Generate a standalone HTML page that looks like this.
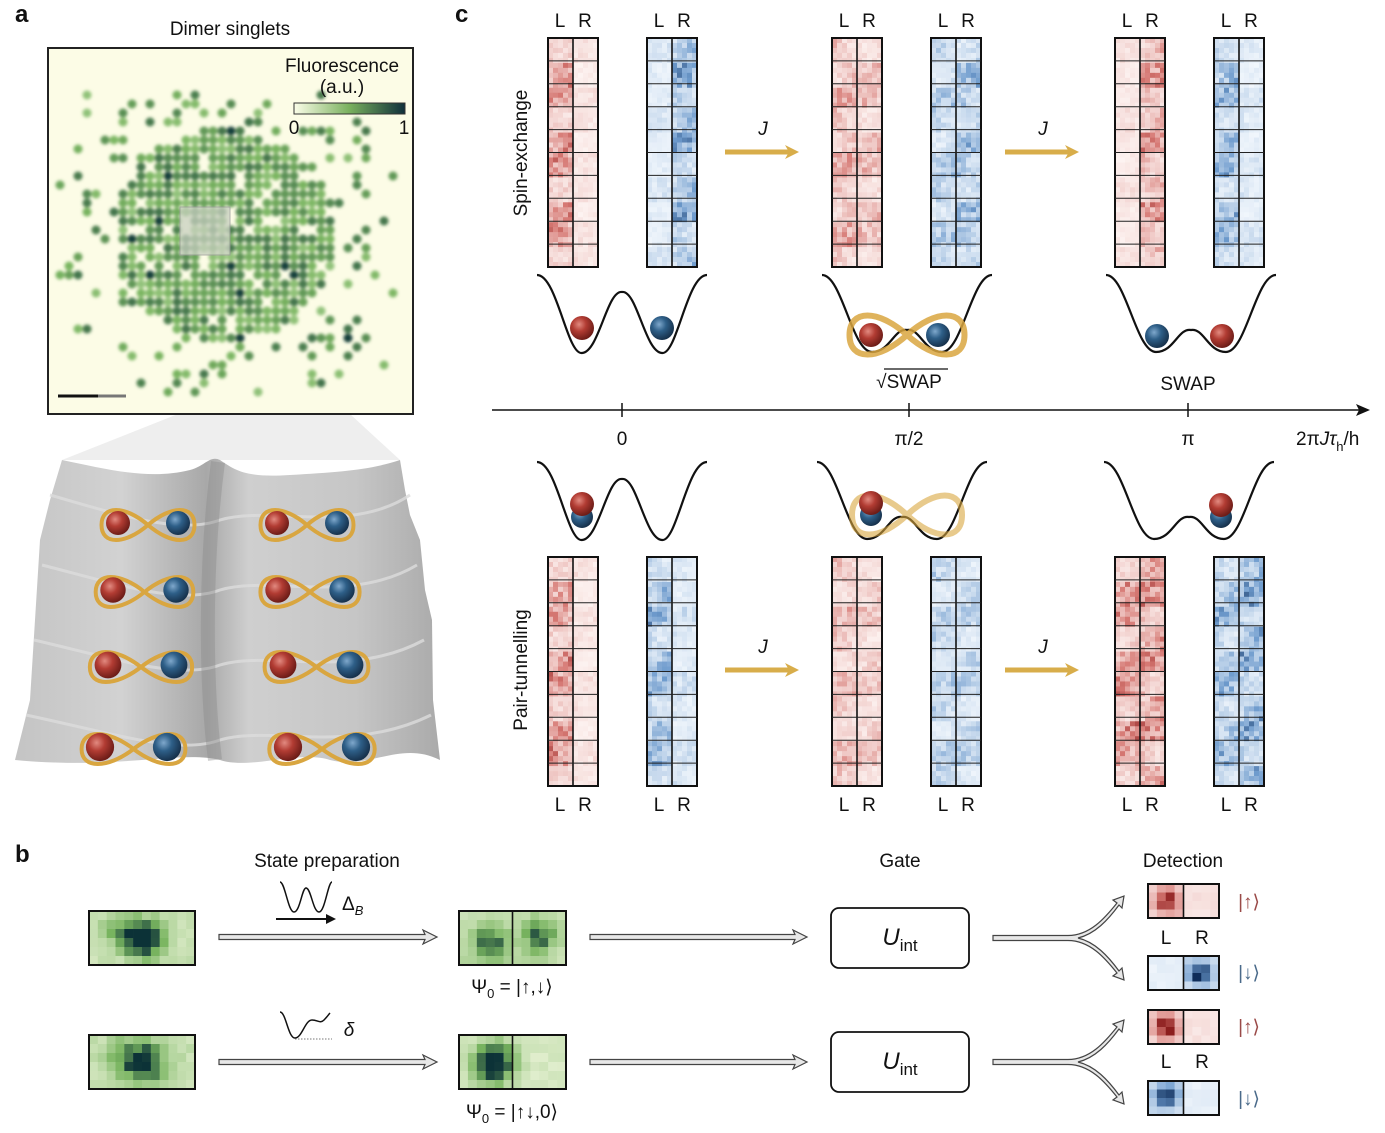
<!DOCTYPE html>
<html><head><meta charset="utf-8"><style>
html,body{margin:0;padding:0;background:#fff}
svg{display:block}
text{font-family:"Liberation Sans",sans-serif;fill:#111}
</style></head><body>
<svg id="s" width="1385" height="1133" viewBox="0 0 1385 1133" xmlns="http://www.w3.org/2000/svg">
<defs>
<radialGradient id="rb" cx="0.38" cy="0.35" r="0.65"><stop offset="0" stop-color="#e28a80"/><stop offset="0.45" stop-color="#b23c33"/><stop offset="1" stop-color="#6e1d18"/></radialGradient>
<radialGradient id="bb" cx="0.38" cy="0.35" r="0.65"><stop offset="0" stop-color="#7fa8cc"/><stop offset="0.45" stop-color="#2e5f88"/><stop offset="1" stop-color="#17324d"/></radialGradient>
<linearGradient id="cbar" x1="0" x2="1"><stop offset="0" stop-color="#fbfde8"/><stop offset="0.5" stop-color="#79b05e"/><stop offset="1" stop-color="#0f2f3a"/></linearGradient>
<linearGradient id="surf" x1="0" x2="1"><stop offset="0" stop-color="#c4c4c4"/><stop offset="0.25" stop-color="#d2d2d2"/><stop offset="0.45" stop-color="#a8a8a8"/><stop offset="0.55" stop-color="#cfcfcf"/><stop offset="0.8" stop-color="#c6c6c6"/><stop offset="1" stop-color="#aaaaaa"/></linearGradient>
<marker id="ga" markerWidth="14" markerHeight="14" refX="6" refY="7" orient="auto" markerUnits="userSpaceOnUse"><path d="M0,0 L14,7 L0,14 L4,7 Z" fill="#d8ad4a"/></marker>
<filter id="bl"><feGaussianBlur stdDeviation="1.6"/></filter>
</defs>
<g id="g"></g>
</svg>
<script>
var g=document.getElementById('g'),out='';
var seed=12345;function rnd(){seed=(seed*16807)%2147483647;return (seed-1)/2147483646;}
function E(s){out+=s;}
function T(x,y,t,sz,anchor,extra){E('<text x="'+x+'" y="'+y+'" font-size="'+(sz||19)+'" text-anchor="'+(anchor||'middle')+'" '+(extra||'')+'>'+t+'</text>');}
function mix(a,b,t){return 'rgb('+Math.round(a[0]+(b[0]-a[0])*t)+','+Math.round(a[1]+(b[1]-a[1])*t)+','+Math.round(a[2]+(b[2]-a[2])*t)+')';}
function cmap(type,v){v=Math.max(0,Math.min(1,v));
 if(type=='r'){return v<0.6?mix([254,247,245],[214,120,115],v/0.6):mix([214,120,115],[140,30,30],(v-0.6)/0.4);}
 if(type=='b'){return v<0.6?mix([246,250,254],[110,155,205],v/0.6):mix([110,155,205],[15,45,90],(v-0.6)/0.4);}
 return v<0.5?mix([250,252,232],[120,180,95],v/0.5):mix([120,180,95],[12,50,55],(v-0.5)/0.5);}
function strip(x,y,type,dl,dr){var w=50,h=229,ps=5;
 for(var j=0;j<46;j++)for(var i=0;i<10;i++){var d=i<5?dl:dr;var row=Math.floor(j/4.6);var v=d*(0.25+0.75*rnd())*(0.6+0.35*Math.sin(row*2.1+i*0.3+d*5))+0.04*rnd();
 E('<rect x="'+(x+i*ps)+'" y="'+(y+j*h/46)+'" width="'+ps+'" height="'+(h/46+0.3)+'" fill="'+cmap(type,v)+'"/>');}
 E('<rect x="'+x+'" y="'+y+'" width="'+w+'" height="'+h+'" fill="none" stroke="#111" stroke-width="2"/>');
 E('<line x1="'+(x+25)+'" y1="'+y+'" x2="'+(x+25)+'" y2="'+(y+h)+'" stroke="#111" stroke-width="1.6"/>');
 for(var k=1;k<10;k++)E('<line x1="'+x+'" y1="'+(y+k*h/10)+'" x2="'+(x+w)+'" y2="'+(y+k*h/10)+'" stroke="#222" stroke-width="1"/>');}
function LR(x,y){T(x+12,y,'L',19);T(x+37,y,'R',19);}
function boxmap(x,y,w,h,type,fn,div){var nx=Math.round(w/9),ny=Math.round(h/9),pw=w/nx,ph=h/ny;
 for(var j=0;j<ny;j++)for(var i=0;i<nx;i++){var v=fn((i+0.5)*pw,(j+0.5)*ph)*(0.75+0.4*rnd())+0.05*rnd();E('<rect x="'+(x+i*pw)+'" y="'+(y+j*ph)+'" width="'+(pw+0.3)+'" height="'+(ph+0.3)+'" fill="'+cmap(type,v)+'"/>');}
 E('<rect x="'+x+'" y="'+y+'" width="'+w+'" height="'+h+'" fill="none" stroke="#111" stroke-width="2"/>');
 if(div)E('<line x1="'+(x+w/2)+'" y1="'+y+'" x2="'+(x+w/2)+'" y2="'+(y+h)+'" stroke="#111" stroke-width="1.6"/>');}
function blob(cx,cy,s){return function(u,v){return Math.exp(-((u-cx)*(u-cx)+(v-cy)*(v-cy))/(s*s));};}
function ball(x,y,c,r){E('<circle cx="'+x+'" cy="'+y+'" r="'+(r||13)+'" fill="url(#'+c+')"/>');}
function well(x0,type){var p;
 if(type==0)p='M'+x0+',275 C'+(x0+20)+',275 '+(x0+30)+',355 '+(x0+45)+',353 C'+(x0+62)+',352 '+(x0+70)+',290 '+(x0+85)+',292 C'+(x0+100)+',290 '+(x0+108)+',352 '+(x0+125)+',353 C'+(x0+140)+',355 '+(x0+150)+',275 '+(x0+170)+',275';
 else p='M'+x0+',275 C'+(x0+20)+',275 '+(x0+30)+',352 '+(x0+50)+',352 C'+(x0+68)+',352 '+(x0+72)+',328 '+(x0+85)+',330 C'+(x0+98)+',328 '+(x0+102)+',352 '+(x0+120)+',352 C'+(x0+140)+',352 '+(x0+150)+',275 '+(x0+170)+',275';
 return p;}
function fig8(cx,cy,w,h,sw,op){E('<path d="M'+cx+','+cy+' C'+(cx+w*0.25)+','+(cy-h)+' '+(cx+w*0.5)+','+(cy-h)+' '+(cx+w*0.5)+','+cy+' C'+(cx+w*0.5)+','+(cy+h)+' '+(cx+w*0.25)+','+(cy+h)+' '+cx+','+cy+' C'+(cx-w*0.25)+','+(cy-h)+' '+(cx-w*0.5)+','+(cy-h)+' '+(cx-w*0.5)+','+cy+' C'+(cx-w*0.5)+','+(cy+h)+' '+(cx-w*0.25)+','+(cy+h)+' '+cx+','+cy+' Z" fill="none" stroke="#d9a640" stroke-width="'+sw+'" opacity="'+(op||1)+'"/>');}

// Panel a
T(15,22,'a',24,'start','font-weight="bold"');
T(230,35,'Dimer singlets',19);
E('<rect x="48" y="48" width="365" height="366" fill="#fcfce6"/>');
E('<g filter="url(#bl)">');
for(var yy=95;yy<400;yy+=9)for(var xx=60;xx<400;xx+=9){var dx=xx-225,dy=yy-235,r=Math.sqrt(dx*dx*0.9+dy*dy);var p=r<105?0.93:(r<170?0.18:0.05);if(rnd()<p){var v=0.4+0.35*rnd();if(rnd()<0.02)v=0.95;E('<circle cx="'+xx+'" cy="'+yy+'" r="4.5" fill="'+cmap('g',v)+'"/>');}}
E('</g>');
E('<rect x="180" y="207" width="50" height="48" fill="#c8d0c0" opacity="0.75" stroke="#999" stroke-width="1"/>');
E('<polygon points="178,414 350,414 400,460 62,460" fill="#ececec" opacity="0.9"/>');
E('<rect x="48" y="48" width="365" height="366" fill="none" stroke="#222" stroke-width="2"/>');
T(342,72,'Fluorescence',19);T(342,93,'(a.u.)',19);
E('<rect x="294" y="103" width="111" height="11" fill="url(#cbar)" stroke="#333" stroke-width="1"/>');
T(294,134,'0',19);T(404,134,'1',19);
E('<line x1="58" y1="396" x2="98" y2="396" stroke="#111" stroke-width="3"/><line x1="98" y1="396" x2="126" y2="396" stroke="#777" stroke-width="3"/>');
E('<path d="M62,460 C110,470 150,480 190,470 C205,466 210,455 220,460 C235,470 245,478 290,475 C340,472 370,470 400,460 L405,490 L410,515 L420,540 L425,590 L432,620 L433,700 L440,760 C400,740 370,770 330,760 C300,750 250,770 220,760 C180,750 120,770 15,760 L30,700 L35,620 L40,540 L50,500 Z" fill="url(#surf)"/>');
for(var rr=0;rr<4;rr++){var yb=[545,615,690,765][rr];E('<path d="M'+(50-rr*8)+','+(yb-50)+' C120,'+(yb-30)+' 180,'+(yb-10)+' 220,'+(yb-25)+' C270,'+(yb-40)+' 350,'+(yb-10)+' '+(410+rr*7)+','+(yb-50)+'" fill="none" stroke="#dcdcdc" stroke-width="3" opacity="0.8"/>');}
E('<path d="M218,462 C205,560 205,680 215,760" stroke="#8a8a8a" stroke-width="14" fill="none" opacity="0.4"/>');
var rows=[[523,118,178,277,337],[590,113,176,278,342],[665,108,174,283,350],[747,100,167,288,356]];
rows.forEach(function(r,i){var rad=12+i*0.7;fig8((r[1]+r[2])/2,r[0]+2,(r[2]-r[1])*1.55,20,4);fig8((r[3]+r[4])/2,r[0]+2,(r[4]-r[3])*1.55,20,4);ball(r[1],r[0],'rb',rad);ball(r[2],r[0],'bb',rad);ball(r[3],r[0],'rb',rad);ball(r[4],r[0],'bb',rad);});

// Panel c
T(455,22,'c',24,'start','font-weight="bold"');
var cols=[548,832,1115];
var topD=[[0.8,0.15,0.2,0.8],[0.6,0.5,0.5,0.65],[0.15,0.75,0.75,0.2]];
var botD=[[0.8,0.15,0.75,0.25],[0.5,0.4,0.45,0.45],[0.85,0.85,0.7,0.85]];
cols.forEach(function(x,i){LR(x,27);LR(x+99,27);strip(x,38,'r',topD[i][0],topD[i][1]);strip(x+99,38,'b',topD[i][2],topD[i][3]);
 strip(x,557,'r',botD[i][0],botD[i][1]);strip(x+99,557,'b',botD[i][2],botD[i][3]);LR(x,811);LR(x+99,811);});
E('<path d="'+well(537,0)+'" fill="none" stroke="#111" stroke-width="2.2"/>');ball(582,328,'rb',12);ball(662,328,'bb',12);
E('<path d="'+well(822,1)+'" fill="none" stroke="#111" stroke-width="2.2"/>');fig8(907,335,115,26,6,0.85);ball(871,335,'rb',12);ball(938,335,'bb',12);
E('<path d="'+well(1106,1)+'" fill="none" stroke="#111" stroke-width="2.2"/>');ball(1157,336,'bb',12);ball(1222,336,'rb',12);
T(909,388,'√SWAP',19);E('<line x1="884" y1="369" x2="948" y2="369" stroke="#111" stroke-width="1.2"/>');
T(1188,390,'SWAP',19);
function bwell(x0,type){E('<path d="'+well(x0,type).replace(/(\d+(\.\d+)?),(\d+(\.\d+)?)/g,function(m,a,b,c){return a+','+(+c+187);})+'" fill="none" stroke="#111" stroke-width="2.2"/>');}
bwell(537,0);ball(582,517,'bb',11);ball(582,504,'rb',12);
bwell(817,1);fig8(907,515,110,26,6,0.6);ball(871,515,'bb',11);ball(871,503,'rb',12);
bwell(1104,1);ball(1221,517,'bb',11);ball(1221,505,'rb',12);
[[725,152],[1005,152],[725,670],[1005,670]].forEach(function(a){E('<line x1="'+a[0]+'" y1="'+a[1]+'" x2="'+(a[0]+66)+'" y2="'+a[1]+'" stroke="#d8ad4a" stroke-width="5" marker-end="url(#ga)"/>');T(a[0]+38,a[1]-17,'J',19,'middle','font-style="italic"');});
E('<line x1="492" y1="410" x2="1360" y2="410" stroke="#111" stroke-width="1.5"/><path d="M1370,410 L1356,404 L1359,410 L1356,416 Z" fill="#111"/>');
[622,909,1188].forEach(function(x){E('<line x1="'+x+'" y1="403" x2="'+x+'" y2="417" stroke="#111" stroke-width="1.5"/>');});
T(622,445,'0',19);T(909,445,'π/2',19);T(1188,445,'π',19);
E('<text x="1296" y="445" font-size="19" text-anchor="start">2π<tspan font-style="italic">J</tspan><tspan font-style="italic">τ</tspan><tspan font-size="13" dy="6">h</tspan><tspan dy="-6">/h</tspan></text>');
T(527,153,'Spin-exchange',19,'middle','transform="rotate(-90 527 153)"');
T(527,670,'Pair-tunnelling',19,'middle','transform="rotate(-90 527 670)"');

// Panel b
T(15,862,'b',24,'start','font-weight="bold"');
T(327,867,'State preparation',19);T(900,867,'Gate',19);T(1183,867,'Detection',19);
var gfull=function(u,v){return 1.05*blob(56,28,17)(u,v)+0.35*blob(35,22,18)(u,v)+0.18;};
boxmap(89,911,106,54,'g',gfull,false);boxmap(89,1035,106,54,'g',gfull,false);
boxmap(459,911,107,54,'g',function(u,v){return 0.75*blob(32,32,15)(u,v)+0.65*blob(80,25,15)(u,v)+0.2;},true);
boxmap(459,1035,107,54,'g',function(u,v){return 1.15*blob(35,28,18)(u,v)+0.12;},true);
function harrow(x1,x2,y){E('<path d="M'+x1+','+(y-2.5)+' L'+(x2-12)+','+(y-2.5)+' L'+(x2-14)+','+(y-7)+' L'+x2+','+y+' L'+(x2-14)+','+(y+7)+' L'+(x2-12)+','+(y+2.5)+' L'+x1+','+(y+2.5)+' Z" fill="#e8e8e8" stroke="#444" stroke-width="1.2"/>');}
harrow(219,437,937);harrow(590,807,937);harrow(219,437,1062);harrow(590,807,1062);
E('<path d="M280,882 C285,882 288,912 294,912 C300,912 302,888 306,888 C311,888 313,912 319,912 C325,912 328,882 332,882" fill="none" stroke="#111" stroke-width="1.5"/>');
E('<line x1="276" y1="919" x2="328" y2="919" stroke="#111" stroke-width="2"/><path d="M336,919 L326,914 L326,924 Z" fill="#111"/>');
E('<text x="342" y="910" font-size="19">Δ<tspan font-size="13" dy="5" font-style="italic">B</tspan></text>');
E('<path d="M280,1012 C286,1012 288,1038 295,1038 C302,1038 305,1020 312,1020 C318,1020 320,1024 324,1020 C327,1017 329,1014 330,1013" fill="none" stroke="#111" stroke-width="1.5"/><line x1="295" y1="1039" x2="332" y2="1039" stroke="#777" stroke-width="1" stroke-dasharray="1.5,1.5"/>');
T(349,1036,'δ',19,'middle','font-style="italic"');
E('<text x="512" y="993" font-size="19" text-anchor="middle">Ψ<tspan font-size="13" dy="5">0</tspan><tspan dy="-5"> = |↑,↓⟩</tspan></text>');
E('<text x="512" y="1118" font-size="19" text-anchor="middle">Ψ<tspan font-size="13" dy="5">0</tspan><tspan dy="-5"> = |↑↓,0⟩</tspan></text>');
[908,1032].forEach(function(y){E('<rect x="831" y="'+y+'" width="138" height="60" rx="8" fill="#fff" stroke="#111" stroke-width="1.8"/>');E('<text x="900" y="'+(y+37)+'" font-size="24" text-anchor="middle" font-style="italic">U<tspan font-size="17" dy="6" font-style="normal">int</tspan></text>');});
function fork(y){E('<path d="M993,'+(y-2.5)+' L1068,'+(y-2.5)+' C1090,'+(y-2.5)+' 1105,'+(y-20)+' 1117,'+(y-35)+' L1113,'+(y-38)+' L1124,'+(y-42)+' L1122,'+(y-30)+' L1119,'+(y-33)+' C1108,'+(y-18)+' 1095,'+(y-4)+' 1078,'+y+' C1095,'+(y+4)+' 1108,'+(y+18)+' 1119,'+(y+33)+' L1122,'+(y+30)+' L1124,'+(y+42)+' L1113,'+(y+38)+' L1117,'+(y+35)+' C1105,'+(y+20)+' 1090,'+(y+2.5)+' 1068,'+(y+2.5)+' L993,'+(y+2.5)+' Z" fill="#e8e8e8" stroke="#444" stroke-width="1.2"/>');}
fork(938);fork(1062);
boxmap(1148,884,71,34,'r',function(u,v){return u<35?1.0*blob(20,17,11)(u,v)+0.15:0.08;},true);
boxmap(1148,956,71,34,'b',function(u,v){return u>35?1.0*blob(52,17,11)(u,v)+0.15:0.04;},true);
boxmap(1148,1010,71,34,'r',function(u,v){return u<35?1.0*blob(18,17,11)(u,v)+0.15:0.08;},true);
boxmap(1148,1081,71,34,'b',function(u,v){return u<35?1.0*blob(18,15,11)(u,v)+0.15:0.04;},true);
T(1166,944,'L',19);T(1202,944,'R',19);T(1166,1068,'L',19);T(1202,1068,'R',19);
[[908,'#9a4a48','|↑⟩'],[979,'#4a6a8a','|↓⟩'],[1033,'#9a4a48','|↑⟩'],[1105,'#4a6a8a','|↓⟩']].forEach(function(k){E('<text x="1249" y="'+k[0]+'" font-size="19" text-anchor="middle" style="fill:'+k[1]+'">'+k[2]+'</text>');});
g.innerHTML=out;
</script>
</body></html>
